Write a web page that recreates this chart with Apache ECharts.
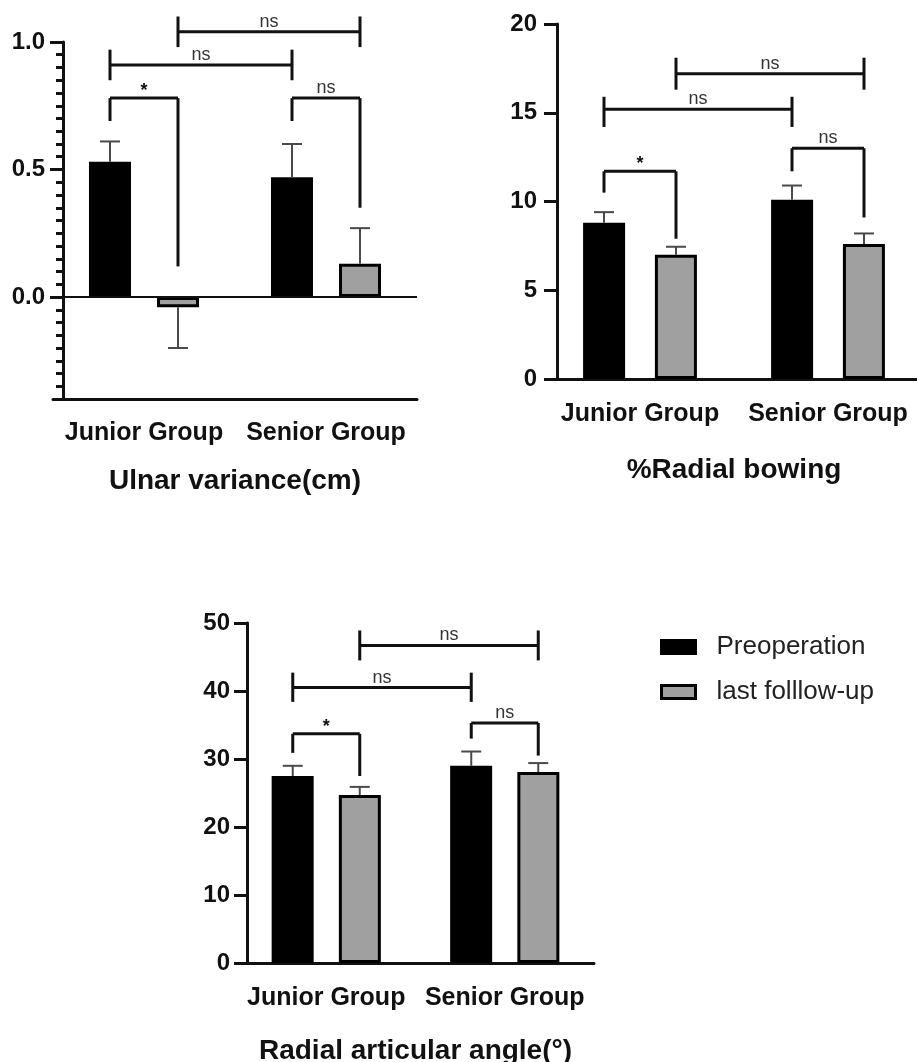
<!DOCTYPE html>
<html>
<head>
<meta charset="utf-8">
<script src="https://cdn.jsdelivr.net/npm/echarts@6/dist/echarts.min.js"></script>
<style>
html,body{margin:0;padding:0;background:#fff;}
#chart{width:917px;height:1062px;}
</style>
</head>
<body>
<div id="chart"></div>
<script>
// ---------- data ----------
const categories = ['Junior Group', 'Senior Group'];
const seriesNames = ['Preoperation', 'last folllow-up'];

// Panel 1: Ulnar variance (cm)
const ulnarTitle = 'Ulnar variance(cm)';
const ulnarPre = [0.53, 0.47];
const ulnarPreSD = [0.08, 0.13];
const ulnarLast = [-0.04, 0.13];
const ulnarLastSD = [0.16, 0.14];
const ulnarTicks = [0, 0.5, 1.0];
const ulnarMinorTicks = [-0.4, -0.35, -0.3, -0.25, -0.2, -0.15, -0.1, -0.05, 0.05, 0.1, 0.15, 0.2, 0.25, 0.3, 0.35, 0.4, 0.45, 0.55, 0.6, 0.65, 0.7, 0.75, 0.8, 0.85, 0.9, 0.95];
// [cat1, slot1, cat2, slot2, lineValue, leg1Top, leg1Bottom, leg2Top, leg2Bottom]
const ulnarBrackets = [
  [0, 0, 0, 1, 0.78, 0.78, 0.69, 0.78, 0.12],
  [0, 0, 1, 0, 0.91, 0.97, 0.85, 0.97, 0.85],
  [0, 1, 1, 1, 1.04, 1.10, 0.98, 1.10, 0.98],
  [1, 0, 1, 1, 0.78, 0.78, 0.69, 0.78, 0.35]
];
const ulnarBracketLabels = ['*', 'ns', 'ns', 'ns'];

// Panel 2: %Radial bowing
const bowingTitle = '%Radial bowing';
const bowingPre = [8.8, 10.1];
const bowingPreSD = [0.6, 0.8];
const bowingLast = [7.0, 7.6];
const bowingLastSD = [0.45, 0.6];
const bowingTicks = [0, 5, 10, 15, 20];
const bowingBrackets = [
  [0, 0, 0, 1, 11.7, 11.7, 10.5, 11.7, 7.9],
  [0, 0, 1, 0, 15.2, 15.9, 14.2, 15.9, 14.2],
  [0, 1, 1, 1, 17.2, 18.1, 16.3, 18.1, 16.3],
  [1, 0, 1, 1, 13.0, 13.0, 11.7, 13.0, 9.1]
];
const bowingBracketLabels = ['*', 'ns', 'ns', 'ns'];

// Panel 3: Radial articular angle
const angleTitle = 'Radial articular angle(°)';
const anglePre = [27.5, 29.0];
const anglePreSD = [1.5, 2.1];
const angleLast = [24.7, 28.1];
const angleLastSD = [1.2, 1.3];
const angleTicks = [0, 10, 20, 30, 40, 50];
const angleBrackets = [
  [0, 0, 0, 1, 33.7, 33.7, 30.9, 33.7, 27.5],
  [0, 0, 1, 0, 40.5, 42.7, 38.4, 42.7, 38.4],
  [0, 1, 1, 1, 46.7, 48.9, 44.5, 48.9, 44.5],
  [1, 0, 1, 1, 35.3, 35.3, 33.0, 35.3, 30.5]
];
const angleBracketLabels = ['*', 'ns', 'ns', 'ns'];

// ---------- styling / rendering ----------
const FONT = '"Liberation Sans", Arial, Helvetica, sans-serif';
const BAR_W = 42;

const panels = [
  { title: ulnarTitle, pre: ulnarPre, preSD: ulnarPreSD, last: ulnarLast, lastSD: ulnarLastSD,
    brackets: ulnarBrackets, labels: ulnarBracketLabels,
    grid: { left: 53, top: 42, width: 364, height: 357 }, yOffset: -10,
    min: -0.4, max: 1.0, ticks: ulnarTicks, minor: ulnarMinorTicks, dec: 1,
    slot: 34, labelMargin: 18, catMargin: 22, nameGap: 68, zeroLine: true },
  { title: bowingTitle, pre: bowingPre, preSD: bowingPreSD, last: bowingLast, lastSD: bowingLastSD,
    brackets: bowingBrackets, labels: bowingBracketLabels,
    grid: { left: 546, top: 24, width: 376, height: 355 }, yOffset: -11,
    min: 0, max: 20, ticks: bowingTicks, minor: null, dec: 0,
    slot: 36, labelMargin: 20, catMargin: 23, nameGap: 77, zeroLine: false },
  { title: angleTitle, pre: anglePre, preSD: anglePreSD, last: angleLast, lastSD: angleLastSD,
    brackets: angleBrackets, labels: angleBracketLabels,
    grid: { left: 237, top: 623, width: 357, height: 340 }, yOffset: -10,
    min: 0, max: 50, ticks: angleTicks, minor: null, dec: 0,
    slot: 33.5, labelMargin: 17, catMargin: 23, nameGap: 74, zeroLine: false }
];

function errorRender(p, rows) {
  return function (params, api) {
    const r = rows[params.dataIndex];
    const cat = r[0], mean = r[1], sd = r[2], slot = r[3];
    const end = mean >= 0 ? mean + sd : mean - sd;
    const a = api.coord([cat, mean]);
    const b = api.coord([cat, end]);
    const x = a[0] + (slot ? p.slot : -p.slot);
    const st = { stroke: '#4a4a4a', lineWidth: 2 };
    return { type: 'group', children: [
      { type: 'line', shape: { x1: x, y1: a[1], x2: x, y2: b[1] }, style: st },
      { type: 'line', shape: { x1: x - 10, y1: b[1], x2: x + 10, y2: b[1] }, style: st }
    ]};
  };
}

function bracketRender(p) {
  return function (params, api) {
    const b = p.brackets[params.dataIndex];
    const label = p.labels[params.dataIndex];
    const px = (cat, slot, v) => {
      const pt = api.coord([cat, v]);
      return [pt[0] + (slot ? p.slot : -p.slot), pt[1]];
    };
    const l = px(b[0], b[1], b[4]);
    const r = px(b[2], b[3], b[4]);
    const l1 = px(b[0], b[1], b[5]), l2 = px(b[0], b[1], b[6]);
    const r1 = px(b[2], b[3], b[7]), r2 = px(b[2], b[3], b[8]);
    const st = { stroke: '#111', lineWidth: 3 };
    const isStar = label === '*';
    return { type: 'group', children: [
      { type: 'line', shape: { x1: l[0], y1: l[1], x2: r[0], y2: r[1] }, style: st },
      { type: 'line', shape: { x1: l1[0], y1: l1[1], x2: l2[0], y2: l2[1] }, style: st },
      { type: 'line', shape: { x1: r1[0], y1: r1[1], x2: r2[0], y2: r2[1] }, style: st },
      { type: 'text', style: {
          text: label, x: (l[0] + r[0]) / 2, y: l[1] + (isStar ? 2 : -1),
          align: 'center', verticalAlign: 'bottom',
          font: (isStar ? 'bold 18px ' : '18px ') + FONT, fill: isStar ? '#111' : '#333' } }
    ]};
  };
}

const grid = [], xAxis = [], yAxis = [], series = [];
panels.forEach((p, i) => {
  grid.push(Object.assign({ containLabel: false, outerBoundsMode: 'none' }, p.grid));
  xAxis.push({
    type: 'category', gridIndex: i, data: categories,
    axisLine: { onZero: false, lineStyle: { color: '#111', width: 3 } },
    axisTick: { alignWithLabel: true, interval: 0, length: 14, lineStyle: { color: '#111', width: 3 } },
    axisLabel: { interval: 0, hideOverlap: false, margin: p.catMargin, fontSize: 25, fontWeight: 'bold', fontFamily: FONT, color: '#111' },
    splitLine: { show: false },
    name: p.title, nameLocation: 'middle', nameGap: p.nameGap,
    nameTextStyle: { fontSize: 28, fontWeight: 'bold', fontFamily: FONT, color: '#111' }
  });
  const yIdx = yAxis.length;
  yAxis.push({
    type: 'value', gridIndex: i, position: 'left', min: p.min, max: p.max, offset: p.yOffset,
    axisLine: { show: true, onZero: false, lineStyle: { color: '#111', width: 3 } },
    axisTick: { show: true, length: 13, customValues: p.ticks, lineStyle: { color: '#111', width: 3 } },
    axisLabel: { margin: p.labelMargin, customValues: p.ticks, fontSize: 24, fontWeight: 'bold',
                 fontFamily: FONT, color: '#111', formatter: v => Number(v).toFixed(p.dec) },
    splitLine: { show: false }
  });
  if (p.minor) {
    yAxis.push({
      type: 'value', gridIndex: i, position: 'left', min: p.min, max: p.max, offset: p.yOffset,
      axisLine: { show: false },
      axisTick: { show: true, length: 7, customValues: p.minor, lineStyle: { color: '#111', width: 3 } },
      axisLabel: { show: false },
      splitLine: { show: false }
    });
  }
  const gap = Math.round((2 * p.slot / BAR_W - 1) * 100) + '%';
  const preSeries = {
    name: seriesNames[0], type: 'bar', xAxisIndex: i, yAxisIndex: yIdx,
    data: p.pre, barWidth: BAR_W, barGap: gap,
    itemStyle: { color: '#000', borderColor: '#000', borderWidth: 3 }, z: 2
  };
  if (p.zeroLine) {
    preSeries.markLine = { symbol: 'none', silent: true, label: { show: false },
      lineStyle: { color: '#111', width: 2, type: 'solid' }, data: [{ yAxis: 0 }] };
  }
  series.push(preSeries);
  series.push({
    name: seriesNames[1], type: 'bar', xAxisIndex: i, yAxisIndex: yIdx,
    data: p.last, barWidth: BAR_W, barGap: gap,
    itemStyle: { color: '#a0a0a0', borderColor: '#000', borderWidth: 3 }, z: 2
  });
  const errRows = categories.map((c, k) => [k, p.pre[k], p.preSD[k], 0])
    .concat(categories.map((c, k) => [k, p.last[k], p.lastSD[k], 1]));
  series.push({
    type: 'custom', xAxisIndex: i, yAxisIndex: yIdx, silent: true, z: 3,
    data: errRows.map(r => [r[0], r[1]]),
    renderItem: errorRender(p, errRows)
  });
  series.push({
    type: 'custom', xAxisIndex: i, yAxisIndex: yIdx, silent: true, z: 4, clip: false,
    data: p.brackets.map(b => [b[0], b[4]]),
    renderItem: bracketRender(p)
  });
});

const chart = echarts.init(document.getElementById('chart'), null, { renderer: 'canvas' });
chart.setOption({
  backgroundColor: '#fff',
  animation: false,
  legend: {
    data: seriesNames, orient: 'vertical', left: 660, top: 634, padding: 0,
    itemWidth: 34, itemHeight: 13, itemGap: 19, icon: 'rect',
    itemStyle: { borderColor: '#000', borderWidth: 3 },
    textStyle: { fontSize: 26, fontFamily: FONT, color: '#222', padding: [0, 0, 0, 16] }
  },
  grid, xAxis, yAxis, series
});
</script>
</body>
</html>
